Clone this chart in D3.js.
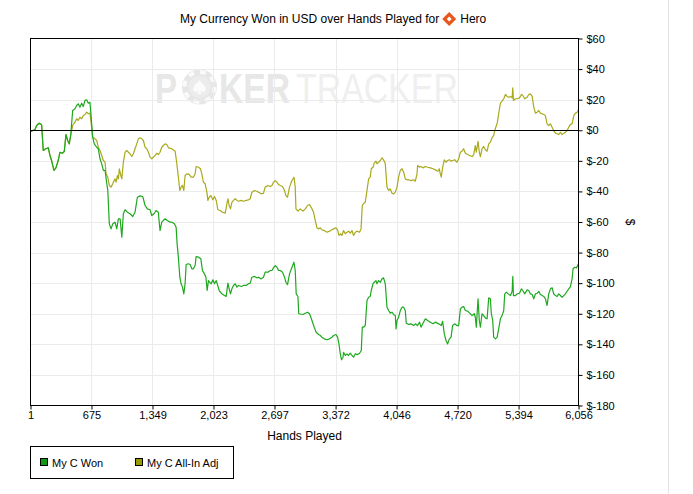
<!DOCTYPE html>
<html>
<head>
<meta charset="utf-8">
<script src="https://cdn.jsdelivr.net/npm/d3@7"></script>
<style>
  body { margin: 0; background: #fff; }
  svg text { font-family: "Liberation Sans", Arial, sans-serif; }
</style>
</head>
<body>
<div id="chart"></div>
<script>
// --- data ---
const handTicks = [1, 675, 1349, 2023, 2697, 3372, 4046, 4720, 5394, 6056];
const dollarTicks = [60, 40, 20, 0, -20, -40, -60, -80, -100, -120, -140, -160, -180];
const seriesNames = ['My C Won', 'My C All-In Adj'];

// [hands, dollars]
const myCWon = [
  [1,-1],[24,-0.2],[50,0.3],[69,3.1],[97,4.6],[124,3.6],[142,-13.2],[171,-12.1],[197,-11.4],[216,-16.5],[234,-19.8],[260,-26.3],[282,-24.6],[307,-19.8],[326,-14.4],[352,-15],[374,-13.9],[393,-2.8],[411,-6.7],[429,-8.9],[445,-3.4],
  [467,12.9],[492,14],[511,16.2],[529,17.3],[547,15.1],[566,17.7],[584,15.5],[603,19.5],[622,19.9],[640,17.7],[658,18.3],[677,4.2],[688,-4.5],[706,-8.9],[732,-11.1],[750,-12.1],[769,-18.7],[788,-22],[806,-26.3],[825,-26.3],[844,-35],[855,-39.4],[872,-61.2],[891,-64.5],[910,-61.2],[935,-60.1],[954,-64.5],[972,-57.9],[991,-57.9],[1010,-69.9],[1027,-54.6],[1046,-52],[1071,-53.6],[1101,-54.6],[1131,-56.4],[1156,-53.6],[1182,-43.8],[1211,-42.9],[1241,-43.3],[1267,-49.2],[1292,-51.4],[1322,-52],[1341,-55.8],[1366,-54.6],[1388,-52.5],[1413,-53.6],[1432,-65.6],[1451,-60.1],[1488,-57.9],[1513,-59],[1543,-60.1],[1562,-60.1],[1591,-61.2],[1610,-63.4],[1621,-74.3],[1635,-83],[1651,-96.1],[1665,-100.4],[1680,-102.6],[1695,-107],[1709,-100.4],[1721,-87.8],[1746,-87.3],[1765,-87.8],[1784,-90.6],[1801,-90.6],[1820,-88.5],[1831,-82.6],[1857,-83],[1883,-84.1],[1901,-91.7],[1923,-93.9],[1939,-96.1],[1953,-104.8],[1967,-98.3],[1997,-100.4],[2016,-97.8],[2034,-100.4],[2053,-98.3],[2067,-100.9],[2086,-104.8],[2116,-107],[2144,-108.1],[2163,-108.7],[2182,-100],[2196,-103.7],[2211,-107],[2226,-103.7],[2244,-101.5],[2263,-100.4],[2282,-102.6],[2299,-101.5],[2329,-102.2],[2354,-101.5],[2384,-101.5],[2410,-100.4],[2429,-100],[2447,-96.1],[2476,-95.6],[2502,-96.5],[2520,-96.1],[2550,-97.2],[2575,-96.1],[2594,-92.8],[2624,-92.8],[2650,-91.7],[2669,-91.7],[2686,-90],[2705,-88.5],[2724,-89.6],[2742,-91.7],[2760,-91.7],[2786,-92.8],[2808,-96.1],[2823,-99.4],[2841,-100.9],[2863,-93.9],[2890,-89.6],[2912,-86.3],[2926,-91.7],[2937,-107],[2956,-108.7],[2965,-120],
  [3011,-120.5],[3037,-119.7],[3062,-119],[3084,-120],[3111,-124.4],[3136,-128.8],[3158,-132.1],[3184,-133.6],[3203,-134.2],[3221,-135.3],[3247,-136.4],[3277,-137],[3305,-136.4],[3332,-135.3],[3350,-134.2],[3376,-133.6],[3394,-135.3],[3409,-139.7],[3424,-146.2],[3438,-150.1],[3454,-148.4],[3460,-145.2],[3479,-147.3],[3498,-146.2],[3516,-147.3],[3534,-145.8],[3553,-147.3],[3571,-148.4],[3590,-146.2],[3615,-146.7],[3637,-145.8],[3656,-144],[3667,-128.8],[3681,-128.8],[3700,-127.7],[3719,-111.3],[3737,-109.2],[3755,-108.7],[3766,-104.8],[3785,-100.4],[3799,-99.4],[3818,-98.3],[3829,-100.4],[3847,-98.3],[3866,-99.4],[3885,-97.2],[3902,-96.5],[3921,-100.4],[3940,-115.7],[3958,-117.9],[3976,-119.6],[3995,-119],[4013,-120.5],[4032,-121.2],[4040,-129.9],[4051,-124.4],[4068,-122.3],[4087,-117.9],[4106,-115.7],[4124,-115.7],[4142,-117.9],[4153,-126.2],[4179,-127],[4205,-126.6],[4234,-127.7],[4253,-126.6],[4278,-127.7],[4300,-125.5],[4316,-128.8],[4338,-126.2],[4364,-123.3],[4389,-124.4],[4419,-125.5],[4449,-126.6],[4474,-125.5],[4511,-126.6],[4540,-127.7],[4555,-124.9],[4573,-133.1],[4592,-137.5],[4610,-139.7],[4629,-136.4],[4648,-135.3],[4665,-127.7],[4688,-126.6],[4714,-127.7],[4732,-127.7],[4751,-116.8],[4769,-115.7],[4787,-115.3],[4806,-117.9],[4831,-118.3],[4853,-119.6],[4880,-121.2],[4905,-120],[4916,-122.3],[4927,-128.8],[4946,-110.2],[4960,-124.4],[4972,-128.8],[4990,-120],[5008,-121.2],[5027,-122.7],[5046,-123.3],[5064,-109.6],[5082,-110.2],[5093,-120],[5108,-124.4],[5119,-135.3],[5138,-136.4],[5157,-135.3],[5174,-129.9],[5193,-123.3],[5212,-121.2],[5230,-117.9],[5241,-107],[5260,-105.9],[5278,-107],[5304,-108.1],[5323,-105.3],[5330,-95.6],[5337,-108.1],[5359,-108.1],[5378,-107],[5404,-106.6],[5426,-103.7],[5440,-104.8],[5462,-107],[5489,-104.3],[5506,-104.8],[5525,-107],[5544,-107.4],[5562,-110.2],[5580,-107],[5599,-106.6],[5617,-105.3],[5635,-107.4],[5654,-108.1],[5672,-108.7],[5690,-110.2],[5709,-114.6],[5727,-107],[5746,-103.7],[5764,-103],[5782,-107],[5801,-108.1],[5820,-108.7],[5837,-107],[5856,-108.1],[5875,-109.2],[5893,-108.1],[5911,-107],[5930,-105.3],[5948,-103.7],[5967,-102.2],[5985,-97.2],[5996,-90.6],[6014,-89.6],[6033,-90],[6056,-87.3]
];

const myCAllInAdj = [
  [1,-1],[24,-0.2],[50,0.3],[69,3.1],[97,4.6],[124,3.6],[142,-13.2],[171,-12.1],[197,-11.4],[216,-16.5],[234,-19.8],[260,-26.3],[282,-24.6],[307,-19.8],[326,-14.4],[352,-15],[374,-13.9],[393,-2.8],[411,-6.7],[429,-8.9],[445,-3.4],
  [467,3.1],[492,5.3],[511,7.5],[529,6.4],[547,8.5],[566,7.5],[584,9.6],[603,10.3],[622,11.8],[640,10.8],[658,11.2],[670,5.3],[688,-4.5],[714,-5.6],[733,-6.7],[750,-11.1],[769,-13.2],[788,-16.5],[806,-19.8],[825,-20.9],[836,-28.5],[855,-30.7],[872,-36.1],[891,-37.2],[910,-35],[924,-32.9],[935,-31.8],[947,-34],[961,-29.6],[972,-31.8],[983,-25.2],[999,-29.6],[1010,-31.8],[1027,-20.9],[1046,-14.4],[1065,-13.2],[1083,-14.4],[1101,-15.4],[1120,-17.2],[1138,-15.4],[1156,-12.1],[1175,-8.9],[1193,-5.6],[1212,-4.9],[1231,-5.6],[1248,-6.7],[1267,-11.1],[1286,-12.1],[1304,-14.4],[1322,-17.6],[1341,-18.7],[1359,-17.6],[1378,-16.5],[1397,-15],[1414,-15.9],[1432,-14.4],[1451,-11.1],[1470,-10],[1488,-8.9],[1507,-9.3],[1525,-11.5],[1562,-12.1],[1599,-13.7],[1618,-21.9],[1635,-30.7],[1651,-39.4],[1665,-37.2],[1680,-36.1],[1695,-39.4],[1709,-29.6],[1728,-28.5],[1754,-28.9],[1776,-30.7],[1801,-30.7],[1820,-28.5],[1831,-23.7],[1857,-24.2],[1879,-25.2],[1894,-28.5],[1912,-34],[1931,-35],[1950,-40.5],[1961,-45.9],[1975,-43.8],[1994,-42.7],[2016,-45.5],[2034,-43.3],[2053,-45.9],[2071,-52],[2097,-52.5],[2122,-53.6],[2152,-54.2],[2171,-48.1],[2182,-44.8],[2196,-49.2],[2211,-51.4],[2226,-47.1],[2244,-45.9],[2263,-44.8],[2282,-45.9],[2299,-46.4],[2329,-45.9],[2354,-46.4],[2384,-45.9],[2410,-45.5],[2429,-44.8],[2447,-40.5],[2476,-39.4],[2502,-39.9],[2520,-40.5],[2550,-41.6],[2575,-41.2],[2594,-37.2],[2624,-36.1],[2650,-36.8],[2669,-36.1],[2686,-34],[2705,-32.9],[2724,-34],[2742,-35.5],[2760,-36.1],[2786,-36.8],[2808,-39.4],[2823,-42.7],[2841,-43.8],[2863,-37.2],[2890,-32.9],[2912,-30.7],[2926,-37.2],[2934,-51.4],[2956,-52.9],[2981,-51.4],[3011,-52.9],[3037,-51.4],[3062,-49.2],[3084,-48.6],[3111,-51.4],[3128,-53.6],[3147,-59],[3166,-63.8],[3184,-64.5],[3203,-63.8],[3221,-65.1],[3247,-65.6],[3277,-66.7],[3305,-66],[3332,-65.1],[3350,-64.5],[3376,-63.8],[3394,-65.1],[3409,-68.8],[3424,-67.7],[3442,-68.8],[3460,-65.6],[3479,-67.7],[3498,-66.7],[3516,-66],[3534,-67.3],[3553,-65.6],[3571,-68.8],[3590,-66.7],[3609,-66],[3637,-66.7],[3653,-64.5],[3667,-49.2],[3681,-48.1],[3700,-47.1],[3719,-39.4],[3737,-31.8],[3755,-30.7],[3766,-25.2],[3785,-24.2],[3799,-21.5],[3818,-20.2],[3829,-21.9],[3847,-20.9],[3866,-19.8],[3885,-18],[3902,-19.3],[3921,-21.9],[3940,-37.2],[3958,-39.4],[3976,-38.3],[3995,-41.2],[4013,-41.6],[4032,-40.5],[4051,-37.2],[4068,-30.7],[4087,-26.3],[4106,-25.2],[4124,-27.4],[4142,-31.8],[4161,-32.4],[4179,-32.4],[4205,-32.9],[4234,-32.4],[4253,-33.3],[4272,-28.5],[4278,-23.1],[4300,-24.2],[4316,-23.7],[4338,-24.6],[4364,-23.7],[4389,-24.2],[4419,-24.6],[4449,-25.2],[4474,-25.9],[4503,-26.8],[4518,-25.2],[4529,-28.5],[4540,-30.7],[4555,-24.2],[4573,-19.3],[4592,-20.9],[4610,-19.8],[4629,-19.3],[4648,-20.2],[4665,-19.8],[4688,-19.3],[4714,-20.9],[4732,-18.7],[4751,-14.4],[4769,-13.7],[4787,-12.1],[4806,-15],[4831,-15.9],[4853,-16.5],[4880,-17.2],[4898,-15.9],[4916,-10],[4927,-14.4],[4946,-7.2],[4960,-14.4],[4972,-17.2],[4990,-12.1],[5008,-10.6],[5027,-12.8],[5046,-13.7],[5064,-8.9],[5082,-7.8],[5101,-4.9],[5119,-3.4],[5130,-0.2],[5149,3.1],[5160,5.3],[5174,10.8],[5193,17.7],[5212,19],[5230,20.6],[5249,23.4],[5267,22.1],[5285,21.6],[5304,22.1],[5323,21.2],[5330,27.8],[5337,19.5],[5359,20.6],[5378,20.6],[5404,21.2],[5426,23.4],[5440,22.7],[5462,20.6],[5489,21.6],[5506,23.4],[5525,23.8],[5544,22.1],[5562,15.1],[5580,11.2],[5599,11.8],[5617,12.9],[5635,11.2],[5654,10.8],[5672,10.3],[5690,9.6],[5709,4.2],[5727,3.1],[5746,4.2],[5764,2],[5782,-0.2],[5801,-1.9],[5820,-2.3],[5837,-2.8],[5856,-1.3],[5875,-2.8],[5893,-1.9],[5911,-1.3],[5930,-0.2],[5948,2],[5967,3.8],[5985,4.2],[6004,9.6],[6022,11.2],[6041,11.8],[6056,13.4]
];

const seriesColors = ['#1ea81e', '#a9a91c'];
const legendColors = ['#119911', '#999900'];

// --- layout ---
const width = 693, height = 494;
const plotL = 30.5, plotR = 578.5, plotT = 38.5, plotB = 405.5;

const svg = d3.select('#chart').append('svg')
    .attr('width', width)
    .attr('height', height);

const x = d3.scaleLinear().domain([1, 6056]).range([plotL, plotR]);
const y = d3.scaleLinear().domain([-180, 60]).range([plotB, plotT]);

// faint page edge at the right
svg.append('line')
    .attr('x1', 668.5).attr('x2', 668.5).attr('y1', 0).attr('y2', height)
    .attr('stroke', '#e4e4e4');

// title
const title = svg.append('g').attr('transform', 'translate(180,23)');
const titleText = title.append('text')
    .attr('font-size', '12px')
    .attr('fill', '#000')
    .text('My Currency Won in USD over Hands Played for');
const tw = titleText.node().getComputedTextLength();
const icon = title.append('g').attr('transform', `translate(${tw + 10},-4)`);
icon.append('path')
    .attr('d', 'M0,-7 L7,0 L0,7 L-7,0 Z')
    .attr('fill', '#e8561c');
icon.append('path')
    .attr('d', 'M0,-2.5 L2.5,0 L0,2.5 L-2.5,0 Z')
    .attr('fill', '#fff');
title.append('text')
    .attr('x', tw + 21)
    .attr('font-size', '12px')
    .text('Hero');

// watermark: each word part squeezed horizontally to the reference width
const wm = svg.append('g').attr('class', 'watermark');
function wmText(str, x0, w, bold, fill) {
    const t = wm.append('text')
        .attr('font-size', '43px')
        .attr('font-weight', bold ? 'bold' : 'normal')
        .attr('fill', fill)
        .text(str);
    const natural = t.node().getComputedTextLength();
    t.attr('transform', `translate(${x0},103) scale(${w / natural},1)`);
}
wmText('P', 155, 22, true, '#e7e7e7');
const chip = wm.append('g').attr('transform', 'translate(199.5,87)');
chip.append('circle').attr('r', 17.5).attr('fill', '#e6e6e6');
chip.append('circle').attr('r', 15)
    .attr('fill', 'none').attr('stroke', '#fafafa').attr('stroke-width', 4)
    .attr('stroke-dasharray', '5.8 6');
chip.append('circle').attr('r', 11).attr('fill', '#ececec');
chip.append('path')
    .attr('d', 'M0,-7 C3,-3 7,-1 6,3 C5,6 2,5 1,3 L2,7 L-2,7 L-1,3 C-2,5 -5,6 -6,3 C-7,-1 -3,-3 0,-7 Z')
    .attr('fill', '#fbfbfb');
wmText('KER', 219, 71, true, '#e7e7e7');
wmText('TRACKER', 296, 162, false, '#efefef');

// grid
const grid = svg.append('g').attr('class', 'grid');
grid.selectAll('line.v')
    .data(handTicks.slice(1, -1))
    .enter().append('line')
    .attr('class', 'v')
    .attr('x1', d => Math.round(x(d)) + 0.5).attr('x2', d => Math.round(x(d)) + 0.5)
    .attr('y1', plotT).attr('y2', plotB)
    .attr('stroke', '#ebebeb');
grid.selectAll('line.h')
    .data(dollarTicks.slice(1, -1))
    .enter().append('line')
    .attr('class', 'h')
    .attr('x1', plotL).attr('x2', plotR)
    .attr('y1', d => Math.round(y(d)) + 0.5).attr('y2', d => Math.round(y(d)) + 0.5)
    .attr('stroke', '#ebebeb');

// series lines
const line = d3.line()
    .x(d => x(d[0]))
    .y(d => y(d[1]));

const plot = svg.append('g');
[myCAllInAdj, myCWon].forEach((data, i) => {
    plot.append('path')
        .datum(data)
        .attr('d', line)
        .attr('fill', 'none')
        .attr('stroke', seriesColors[1 - i])
        .attr('stroke-width', 1.2)
        .attr('stroke-linejoin', 'round');
});

// zero line
svg.append('line')
    .attr('x1', plotL).attr('x2', plotR)
    .attr('y1', Math.round(y(0)) + 0.5).attr('y2', Math.round(y(0)) + 0.5)
    .attr('stroke', '#000');

// frame
svg.append('rect')
    .attr('x', plotL).attr('y', plotT)
    .attr('width', plotR - plotL).attr('height', plotB - plotT)
    .attr('fill', 'none').attr('stroke', '#000');

// x axis
const xAxis = svg.append('g')
    .attr('transform', `translate(0,${plotB})`)
    .call(d3.axisBottom(x).tickValues(handTicks).tickFormat(d3.format(',')).tickSize(4).tickPadding(2));
xAxis.select('.domain').remove();
xAxis.selectAll('text').attr('font-size', '11px').attr('fill', '#000').attr('font-family', null);

// y axis on the right
const yAxis = svg.append('g')
    .attr('transform', `translate(${plotR},0)`)
    .call(d3.axisRight(y).tickValues(dollarTicks).tickFormat(d => '$' + d).tickSize(4).tickPadding(4));
yAxis.select('.domain').remove();
yAxis.selectAll('text').attr('font-size', '11px').attr('fill', '#000').attr('font-family', null);

// axis titles
svg.append('text')
    .attr('x', (plotL + plotR) / 2).attr('y', 440)
    .attr('text-anchor', 'middle')
    .attr('font-size', '12px')
    .text('Hands Played');
svg.append('text')
    .attr('transform', `translate(626,${(plotT + plotB) / 2}) rotate(90)`)
    .attr('text-anchor', 'middle')
    .attr('font-size', '12px')
    .text('$');

// legend
const legend = svg.append('g');
legend.append('rect')
    .attr('x', 30.5).attr('y', 446.5)
    .attr('width', 203).attr('height', 32)
    .attr('fill', '#fff').attr('stroke', '#000');
const legendX = [40, 135];
seriesNames.forEach((name, i) => {
    legend.append('rect')
        .attr('x', legendX[i] + 0.5).attr('y', 458.5)
        .attr('width', 7).attr('height', 7)
        .attr('fill', legendColors[i]).attr('stroke', '#000');
    legend.append('text')
        .attr('x', legendX[i] + 12).attr('y', 467)
        .attr('font-size', '11px')
        .text(name);
});
</script>
</body>
</html>
